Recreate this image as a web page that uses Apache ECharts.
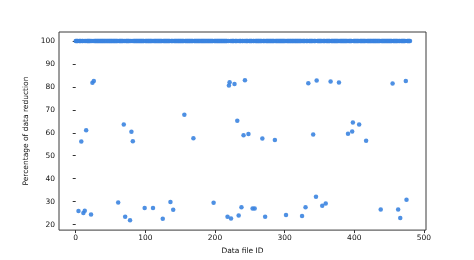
<!DOCTYPE html>
<html>
<head>
<meta charset="utf-8">
<script src="https://cdn.jsdelivr.net/npm/echarts@6/dist/echarts.min.js"></script>
<style>
html,body{margin:0;padding:0;background:#fff;}
#chart{width:474px;height:260px;}
</style>
</head>
<body>
<div id="chart"></div>
<script>
// Files whose reduction is below 100% (id, percentage)
const partialFileIds = [4, 8, 11, 13, 15, 22, 24, 26, 61, 69, 71, 78, 80, 82, 99, 111, 125, 136, 140, 156, 169, 198, 218, 220, 221, 223, 228, 232, 234, 238, 241, 243, 248, 254, 257, 268, 272, 286, 302, 325, 330, 334, 341, 345, 346, 354, 359, 366, 378, 391, 397, 398, 407, 417, 438, 455, 463, 466, 474, 475];
const partialReductions = [25.9, 56.2, 25.0, 26.0, 61.1, 24.4, 81.8, 82.6, 29.6, 63.6, 23.4, 21.9, 60.4, 56.3, 27.2, 27.2, 22.5, 29.8, 26.5, 67.8, 57.6, 29.5, 23.4, 80.6, 82.0, 22.7, 81.2, 65.2, 24.0, 27.5, 58.9, 82.9, 59.5, 27.0, 27.0, 57.5, 23.4, 56.9, 24.2, 23.7, 27.6, 81.6, 59.2, 32.1, 82.8, 28.2, 29.2, 82.3, 81.9, 59.6, 60.5, 64.5, 63.6, 56.5, 26.6, 81.5, 26.6, 22.9, 82.5, 30.8];
// All other files, IDs 0..480, reach full reduction
const firstFileId = 0;
const lastFileId = 480;
const fullReduction = 100;
const xTicks = [0, 100, 200, 300, 400, 500];
const yTicks = [20, 30, 40, 50, 60, 70, 80, 90, 100];

const partialMap = {};
partialFileIds.forEach((id, i) => { partialMap[id] = partialReductions[i]; });
const points = [];
for (let id = firstFileId; id <= lastFileId; id++) {
  points.push([id, partialMap[id] !== undefined ? partialMap[id] : fullReduction]);
}

const font = 'DejaVu Sans';
const chart = echarts.init(document.getElementById('chart'), null, {renderer: 'canvas'});
chart.setOption({
  animation: false,
  backgroundColor: '#fff',
  grid: {left: 59, right: 48, top: 32, bottom: 29, show: true, borderColor: '#3a3a3a', borderWidth: 1, backgroundColor: 'transparent'},
  xAxis: {
    type: 'value', min: -24, max: 503,
    name: 'Data file ID', nameLocation: 'middle', nameGap: 12,
    nameTextStyle: {fontFamily: font, fontSize: 7.5, color: '#111'},
    axisLine: {show: false},
    splitLine: {show: false},
    axisTick: {show: true, length: 3, customValues: xTicks, lineStyle: {color: '#333'}},
    axisLabel: {customValues: xTicks, fontFamily: font, fontSize: 7.5, color: '#111', margin: 4}
  },
  yAxis: {
    type: 'value', min: 17.6, max: 103.9,
    name: 'Percentage of data reduction', nameLocation: 'middle', nameGap: 21,
    nameTextStyle: {fontFamily: font, fontSize: 7.5, color: '#111'},
    axisLine: {show: false},
    splitLine: {show: false},
    axisTick: {show: true, length: 3, customValues: yTicks, lineStyle: {color: '#333'}},
    axisLabel: {customValues: yTicks, fontFamily: font, fontSize: 7.5, color: '#111', margin: 4}
  },
  series: [{
    type: 'scatter',
    data: points,
    symbolSize: 4.5,
    itemStyle: {color: '#3b84e0', opacity: 0.9}
  }]
});
</script>
</body>
</html>
